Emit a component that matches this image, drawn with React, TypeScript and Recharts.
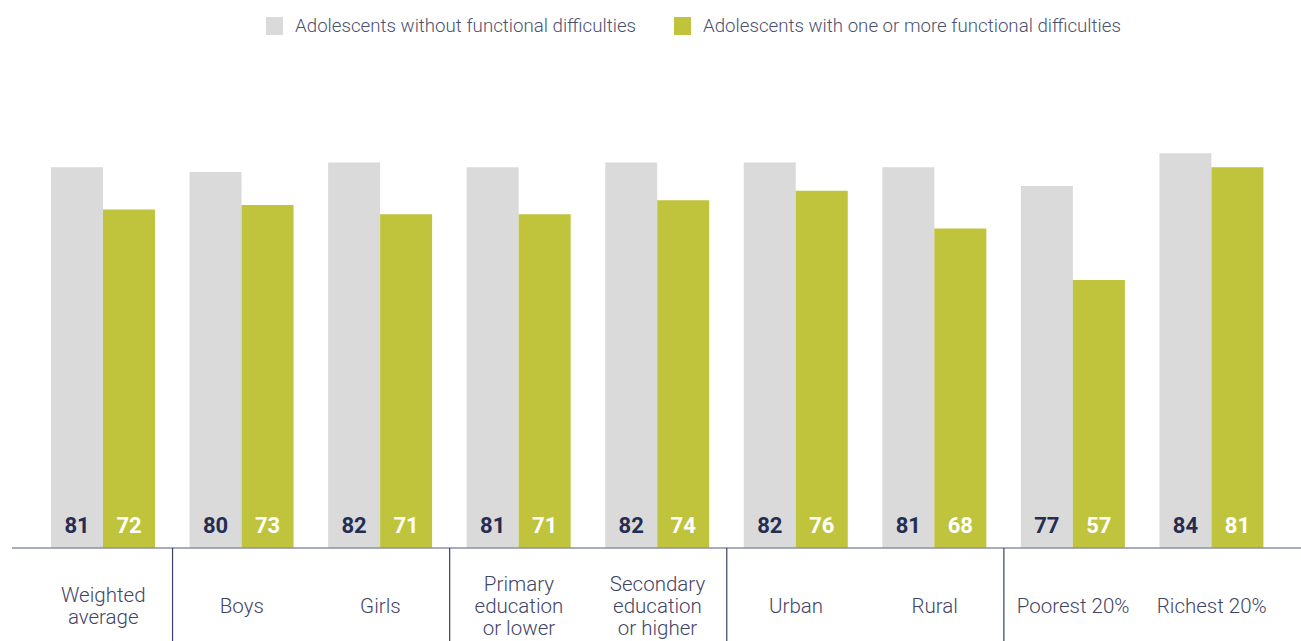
import { BarChart, Bar, XAxis, YAxis, LabelList, Legend } from 'recharts';

const categories = [
  'Weighted\naverage',
  'Boys',
  'Girls',
  'Primary\neducation\nor lower',
  'Secondary\neducation\nor higher',
  'Urban',
  'Rural',
  'Poorest 20%',
  'Richest 20%',
];
const withoutDifficulties = [81, 80, 82, 81, 82, 82, 81, 77, 84];
const withDifficulties = [72, 73, 71, 71, 74, 76, 68, 57, 81];
// separators drawn after these category indexes
const groupEnds = [0, 2, 4, 6];

const GREY = '#dadada';
const GREEN = '#bfc43c';
const NAVY = '#262d52';
const TEXT = '#3f4566';
const FONT = 'Roboto, "Liberation Sans", Arial, sans-serif';

const WIDTH = 1301;
const HEIGHT = 641;
const MARGIN_LEFT = 12;
const PAD_LEFT = 22;
const PAD_RIGHT = 20;
const BAND = (WIDTH - MARGIN_LEFT - PAD_LEFT - PAD_RIGHT) / categories.length;

const data = categories.map((name, i) => ({
  name,
  without: withoutDifficulties[i],
  with: withDifficulties[i],
}));

const CategoryTick = (props: any) => {
  const { x, y, payload, index } = props;
  const lines: string[] = String(payload.value).split('\n');
  const lineH = 22;
  const startY = y + 64.5 - ((lines.length - 1) * lineH) / 2;
  return (
    <g>
      <text textAnchor="middle" fill={TEXT} fontSize={20.5} fontWeight={300} fontFamily={FONT}>
        {lines.map((l, i) => (
          <tspan key={i} x={x} y={startY + i * lineH}>
            {l}
          </tspan>
        ))}
      </text>
      {groupEnds.includes(index) && (
        <line x1={x + BAND / 2} x2={x + BAND / 2} y1={y} y2={HEIGHT} stroke="#3a4063" strokeWidth={1.2} />
      )}
    </g>
  );
};

const LegendContent = () => (
  <div
    style={{
      display: 'flex',
      justifyContent: 'center',
      gap: 38,
      fontFamily: FONT,
      fontSize: 18.7,
      fontWeight: 300,
      color: '#4a5070',
      paddingLeft: 86,
      paddingTop: 1,
    }}
  >
    {[
      { label: 'Adolescents without functional difficulties', color: GREY },
      { label: 'Adolescents with one or more functional difficulties', color: GREEN },
    ].map((it) => (
      <div key={it.label} style={{ display: 'flex', alignItems: 'center' }}>
        <span style={{ width: 17, height: 18, background: it.color, marginRight: 12, display: 'inline-block' }} />
        <span>{it.label}</span>
      </div>
    ))}
  </div>
);

export default function App() {
  return (
    <div style={{ position: 'absolute', left: 0, top: 0, width: WIDTH, height: HEIGHT, background: '#fff' }}>
      <BarChart
        width={WIDTH}
        height={HEIGHT}
        data={data}
        margin={{ top: 55, right: 0, bottom: 0, left: MARGIN_LEFT }}
        barGap={0}
        barCategoryGap={17}
      >
        <Legend
          verticalAlign="top"
          content={<LegendContent />}
          wrapperStyle={{ top: 14, left: 0, width: WIDTH }}
        />
        <YAxis hide domain={[0, 100]} />
        <XAxis
          dataKey="name"
          height={HEIGHT - 548}
          padding={{ left: PAD_LEFT, right: PAD_RIGHT }}
          axisLine={{ stroke: '#8d91a5', strokeWidth: 1.5 }}
          tickLine={false}
          tickSize={0}
          tickMargin={0}
          interval={0}
          tick={<CategoryTick />}
        />
        <Bar dataKey="without" fill={GREY} isAnimationActive={false}>
          <LabelList
            dataKey="without"
            position="insideBottom"
            offset={15}
            fill={NAVY}
            fontSize={22}
            fontWeight={700}
            fontFamily={FONT}
          />
        </Bar>
        <Bar dataKey="with" fill={GREEN} isAnimationActive={false}>
          <LabelList
            dataKey="with"
            position="insideBottom"
            offset={15}
            fill="#ffffff"
            fontSize={22}
            fontWeight={700}
            fontFamily={FONT}
          />
        </Bar>
      </BarChart>
    </div>
  );
}
